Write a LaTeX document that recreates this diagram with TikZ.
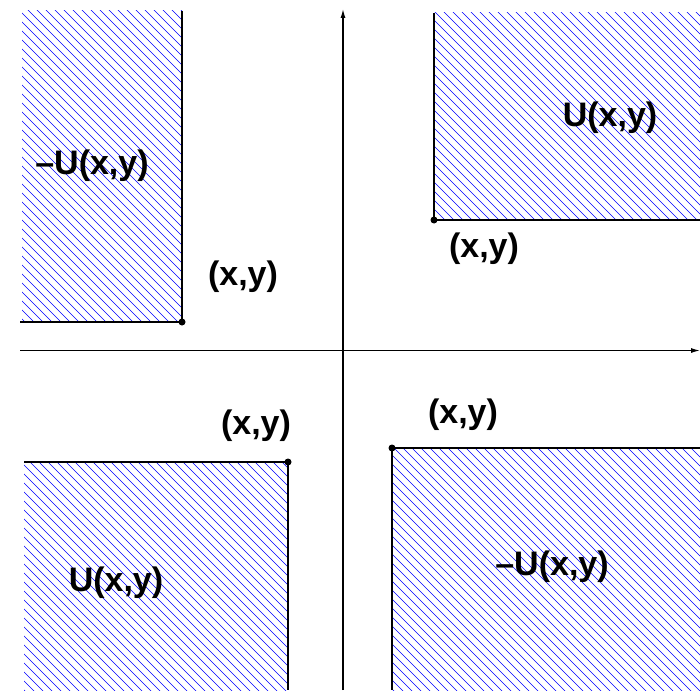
\documentclass[tikz,border=0pt]{standalone}
\usepackage{fontspec}
\setmainfont{Liberation Sans}
\usetikzlibrary{arrows.meta}
\tikzset{
  hatchline/.style={blue, line width=0.6pt},
  edgeline/.style={black, line width=1.2pt},
  axisline/.style={black, line width=1.2pt, -{Latex[length=9pt,width=5pt]}},
  lbl/.style={font=\bfseries\fontsize{34}{38}\selectfont, inner sep=0pt},
  dotmark/.style={circle, fill=black, inner sep=0pt, minimum size=7pt}
}
\begin{document}
\begin{tikzpicture}[x=1pt,y=-1pt]
\useasboundingbox (0,0) rectangle (700,690);
% hatched regions
\foreach \xa/\ya/\xb/\yb in {22/11/182/322, 434/13/700/220, 24/462/288/690, 392/448/700/690}{
  \begin{scope}
    \clip (\xa,\ya) rectangle (\xb,\yb);
    \foreach \s in {-702,-693,...,702}{
      \draw[hatchline] (\s,0) -- ++(700,700);
    }
  \end{scope}
}
% corner points
\coordinate (p1) at (182,322);
\coordinate (p2) at (434,220);
\coordinate (p3) at (288,462);
\coordinate (p4) at (392,448);
% edges
\draw[edgeline] (182,11) -- (p1) -- (20,322);
\draw[edgeline] (434,13) -- (p2) -- (700,220);
\draw[edgeline] (24,462) -- (p3) -- (288,690);
\draw[edgeline] (700,448) -- (p4) -- (392,690);
% axes
\coordinate (xl) at (20,350.5);
\coordinate (xr) at (700,350.5);
\coordinate (yb) at (343,690);
\coordinate (yt) at (343,9);
\draw[axisline] (xl) -- (xr);
\draw[axisline] (yb) -- (yt);
% dots
\node[dotmark] (d1) at (p1) {};
\node[dotmark] (d2) at (p2) {};
\node[dotmark] (d3) at (p3) {};
\node[dotmark] (d4) at (p4) {};
% labels
\node[lbl] (l1) at (92,166) {–U(x,y)};
\node[lbl] (l2) at (243,277) {(x,y)};
\node[lbl] (l3) at (610,118) {U(x,y)};
\node[lbl] (l4) at (484,249) {(x,y)};
\node[lbl] (l5) at (256,426) {(x,y)};
\node[lbl] (l6) at (116,583) {U(x,y)};
\node[lbl] (l7) at (463,415) {(x,y)};
\node[lbl] (l8) at (552,567) {–U(x,y)};
\end{tikzpicture}
\end{document}
